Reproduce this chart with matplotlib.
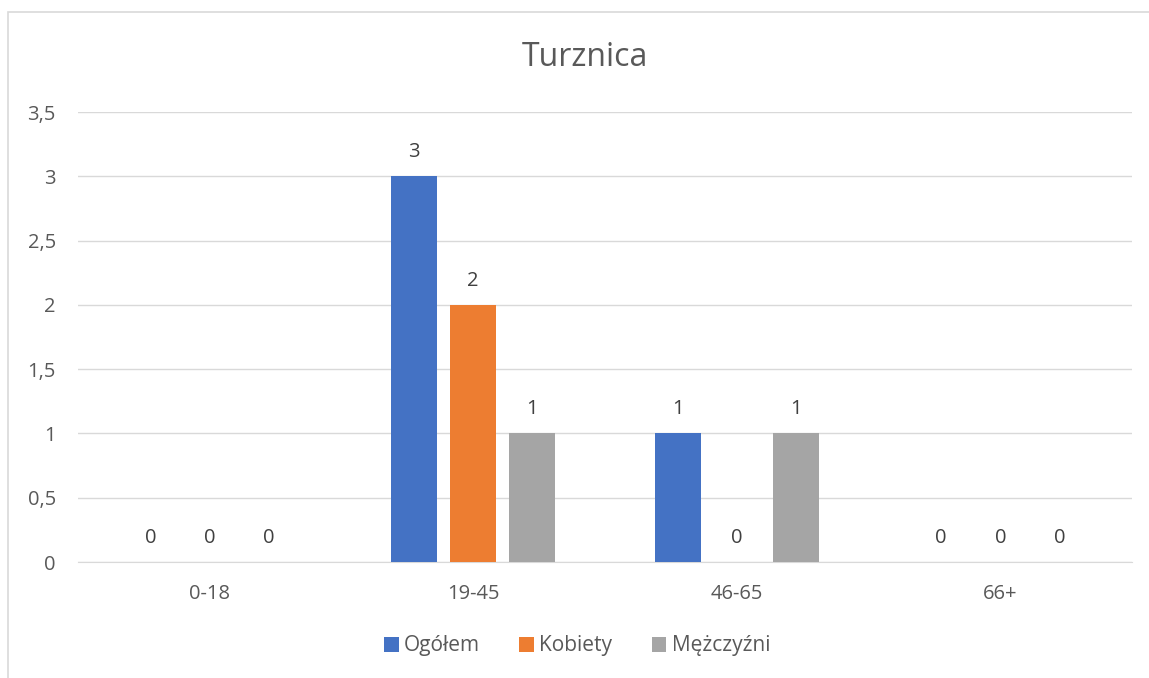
import matplotlib.pyplot as plt
import numpy as np
from matplotlib.patches import Rectangle

plt.rcParams['font.family'] = ['Open Sans', 'DejaVu Sans']

categories = ["0-18", "19-45", "46-65", "66+"]
series = ["Ogółem", "Kobiety", "Mężczyźni"]
ogolem = [0, 3, 1, 0]
kobiety = [0, 2, 0, 0]
mezczyzni = [0, 1, 1, 0]
colors = ["#4472c4", "#ed7d31", "#a5a5a5"]
yticks = [0, 0.5, 1, 1.5, 2, 2.5, 3, 3.5]
ytick_labels = ["0", "0,5", "1", "1,5", "2", "2,5", "3", "3,5"]

W, H = 1149, 678
fig = plt.figure(figsize=(W / 100, H / 100), dpi=100)
ax = fig.add_axes([78 / W, 1 - 562 / H, 1054 / W, 450 / H])

# chart frame (only left/top visible in the crop)
fig.patches.append(Rectangle((8 / W, -0.1), 1.2, 1 - 12 / H + 0.1,
                             transform=fig.transFigure, fill=False,
                             edgecolor="#d9d9d9", linewidth=1.2))

x = np.arange(len(categories))
offset = 0.224
width = 0.175
data = [ogolem, kobiety, mezczyzni]
for i, (name, vals, c) in enumerate(zip(series, data, colors)):
    pos = x + (i - 1) * offset
    ax.bar(pos, vals, width, color=c, label=name, zorder=3)
    for p, v in zip(pos, vals):
        ax.text(p, v + 0.11, str(v), ha="center", va="bottom",
                fontsize=14.5, color="#404040")

ax.set_xlim(-0.5, len(categories) - 0.5)
ax.set_ylim(0, 3.5)
ax.set_yticks(yticks)
ax.set_yticklabels(ytick_labels)
ax.set_xticks(x)
ax.set_xticklabels(categories)
ax.tick_params(axis="both", length=0, labelsize=14.5, colors="#595959")
ax.tick_params(axis="x", pad=16)
ax.tick_params(axis="y", pad=16)
ax.grid(axis="y", color="#d9d9d9", linewidth=1, zorder=0)
for s in ["top", "right", "left"]:
    ax.spines[s].set_visible(False)
ax.spines["bottom"].set_color("#d9d9d9")

fig.text(585 / W, 1 - 58 / H, "Turznica", ha="center", va="center",
         fontsize=23, color="#595959")

fig.legend(loc="center", bbox_to_anchor=(577 / W, 1 - 646 / H), ncol=3,
           frameon=False, fontsize=15, handlelength=0.7, handleheight=0.7,
           handletextpad=0.25, columnspacing=1.9, labelcolor="#595959")

fig.savefig("out.png", dpi=100)
